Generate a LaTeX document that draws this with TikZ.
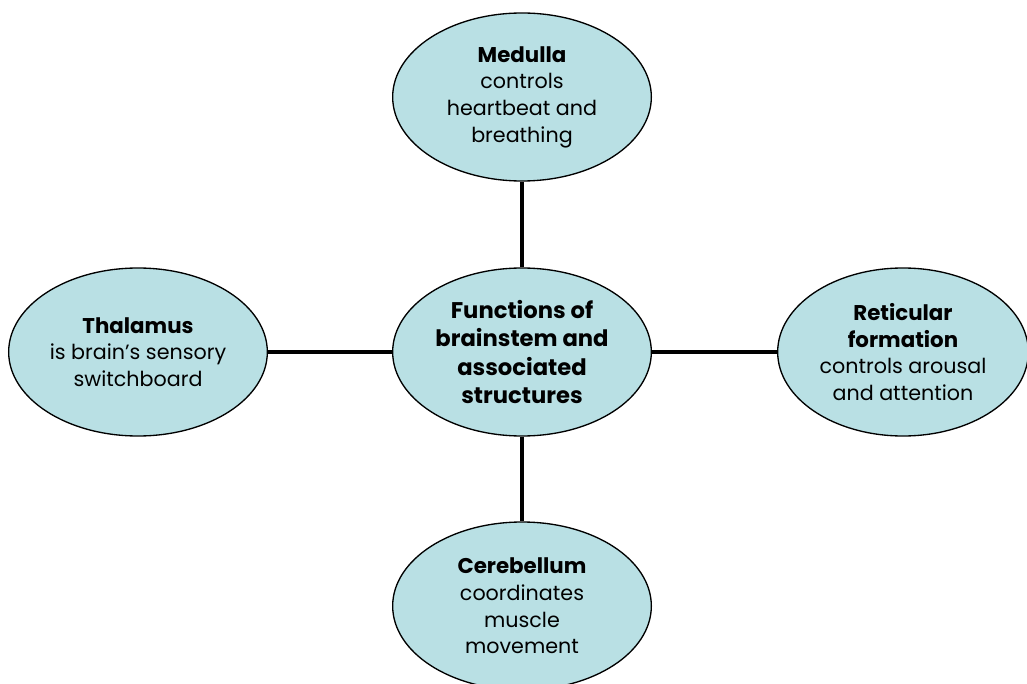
\documentclass[tikz,border=0pt]{standalone}
\usepackage{fontspec}
\setmainfont{Poppins}
\usepackage{tikz}
\usetikzlibrary{shapes.geometric}
\definecolor{brainFill}{RGB}{185,224,228}
\newcommand{\linkWidth}[0]{3.5pt}
\newcommand{\partName}[1]{{\fontsize{16}{20}\selectfont\textbf{#1}}\\}

\begin{document}
\begin{tikzpicture}[x=0.75pt, y=-0.75pt]
  \tikzset{
    part/.style={ellipse, draw=black, line width=1pt, fill=brainFill,
      minimum width=194pt, minimum height=126pt, inner sep=0pt,
      align=center, font=\fontsize{15.5}{20}\selectfont},
    hub/.style={part, font=\fontsize{17}{21.4}\selectfont\bfseries},
    link/.style={line width=\linkWidth}
  }
  \useasboundingbox (0,0) rectangle (1027,684);
  \node[hub] (center) at (522,352) {Functions of\\brainstem and\\associated\\structures};
  \node[part] (medulla) at (522,97) {\partName{Medulla}controls\\heartbeat and\\breathing};
  \node[part] (thalamus) at (138,352) {\partName{Thalamus}is brain's sensory\\switchboard};
  \node[part, minimum width=188pt] (reticular) at (903,352) {\partName{Reticular}\partName{formation}controls arousal\\and attention};
  \node[part] (cerebellum) at (522,606) {\partName{Cerebellum}coordinates\\muscle\\movement};
  \draw[link] (center) -- (medulla);
  \draw[link] (center) -- (thalamus);
  \draw[link] (center) -- (reticular);
  \draw[link] (center) -- (cerebellum);
\end{tikzpicture}
\end{document}
